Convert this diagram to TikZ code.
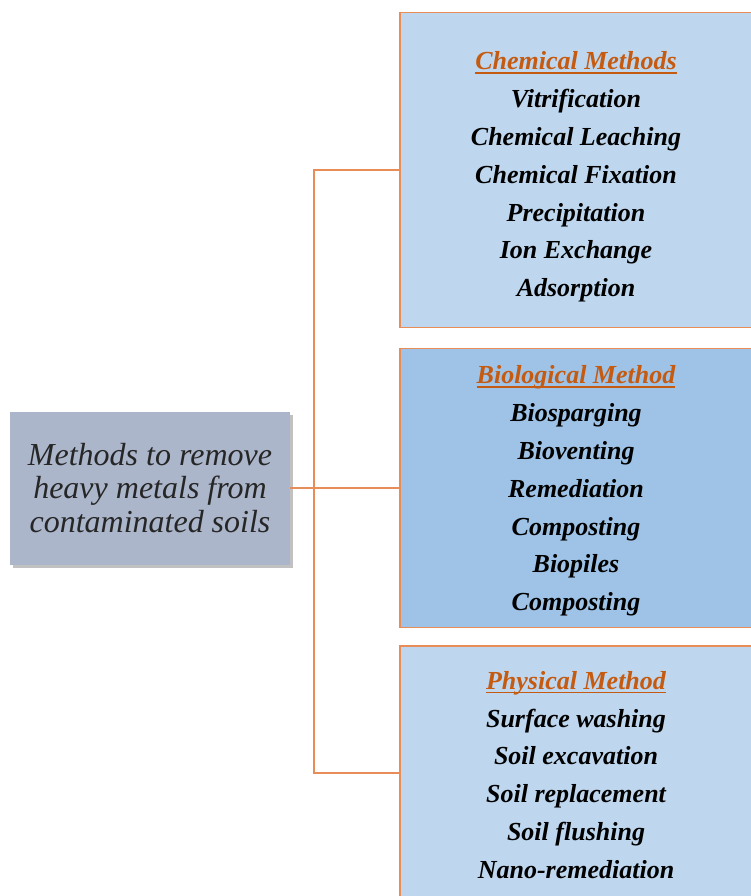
\documentclass[tikz,border=0pt]{standalone}
\usepackage{fontspec}
\setmainfont{Liberation Serif}
\usetikzlibrary{shadows}

\definecolor{rootfill}{RGB}{171,182,203}
\definecolor{lightbox}{RGB}{190,215,238}
\definecolor{darkbox}{RGB}{158,195,230}
\definecolor{linkcol}{RGB}{232,140,88}
\definecolor{headcol}{RGB}{197,90,17}

% orange underlined heading of a group box (optional strut lowers the text)
\newcommand{\grouphead}[2][0pt]{\rule{0pt}{#1}\textcolor{headcol}{\setbox0\hbox{#2}\rlap{\rule[-4pt]{\wd0}{1.8pt}}\box0}}

\begin{document}
\begin{tikzpicture}[x=1pt, y=-1pt,
    rootbox/.style={draw=none, fill=rootfill, minimum width=280pt, minimum height=153pt,
        align=center, text=black!85, font=\fontsize{32}{33.5}\selectfont\itshape,
        drop shadow={shadow xshift=3pt, shadow yshift=-3pt, opacity=0.35, fill=black!70}},
    groupbox/.style={draw=linkcol, line width=1.6pt, minimum width=352pt,
        align=center, font=\fontsize{26}{37.8}\selectfont\bfseries\itshape},
    link/.style={draw=linkcol, line width=2pt}]
    \useasboundingbox (0,0) rectangle (750,896);
    \node[rootbox] (root) at (150,488) {Methods to remove\\heavy metals from\\contaminated soils};
    \node[groupbox, fill=lightbox, minimum height=315pt] (chem) at (576,170) {\grouphead[32pt]{Chemical Methods}\\Vitrification\\Chemical Leaching\\Chemical Fixation\\Precipitation\\Ion Exchange\\Adsorption};
    \node[groupbox, fill=darkbox, minimum height=279pt] (bio) at (576,488) {\grouphead[24pt]{Biological Method}\\Biosparging\\Bioventing\\Remediation\\Composting\\Biopiles\\Composting};
    \node[groupbox, fill=lightbox, minimum height=254pt] (phys) at (576,773) {\grouphead[22pt]{Physical Method}\\Surface washing\\Soil excavation\\Soil replacement\\Soil flushing\\Nano-remediation};
    \coordinate (trunk) at (314,488);
    \draw[link] (root.east) -- (bio.west);
    \draw[link] (chem.west) -- (chem.west -| trunk) -- (phys.west -| trunk) -- (phys.west);
\end{tikzpicture}
\end{document}
